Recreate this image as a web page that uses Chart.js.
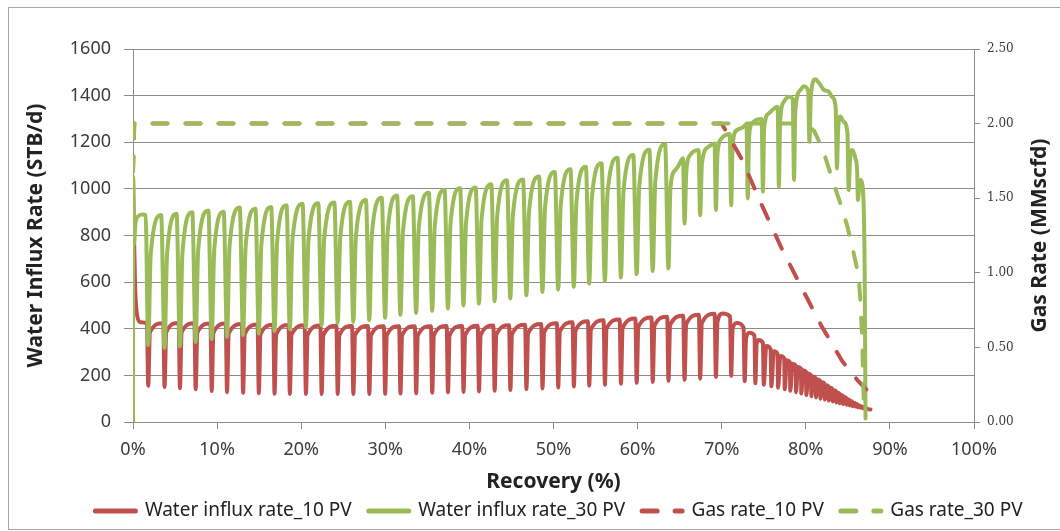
<!DOCTYPE html>
<html>
<head>
<meta charset="utf-8">
<title>Water influx and gas rate vs recovery</title>
<script src="https://cdn.jsdelivr.net/npm/chart.js@4.4.1/dist/chart.umd.min.js"></script>
<style>
  html, body { margin: 0; padding: 0; background: #ffffff; }
  canvas { display: block; }
</style>
</head>
<body>
<canvas id="chart" width="1060" height="531"></canvas>
<script>
// Series names as shown in the legend
const seriesNames = ['Water influx rate_10 PV', 'Water influx rate_30 PV', 'Gas rate_10 PV', 'Gas rate_30 PV'];

// Axis titles
const xTitle = 'Recovery (%)';
const yLeftTitle = 'Water Influx Rate (STB/d)';
const yRightTitle = 'Gas Rate (MMscfd)';

// Water influx rate, 10 PV aquifer: [recovery %, STB/d]
const influx10 = [
  [0,1050],[0.12,800],[0.25,580],[0.5,455],[0.9,428],[1.66,423],
  [1.81,155],[2.01,384],[3.6,424],
  [3.75,150],[3.95,385],[5.43,425],
  [5.58,145],[5.78,384],[7.3,424],
  [7.45,140],[7.65,383],[9.21,423],
  [9.36,133],[9.56,382],[11.03,422],
  [11.18,128],[11.38,380],[12.94,420],
  [13.09,125],[13.29,378],[14.81,418],
  [14.96,123],[15.16,377],[16.68,417],
  [16.83,121],[17.03,376],[18.5,416],
  [18.65,120],[18.85,375],[20.41,415],
  [20.56,120],[20.76,374],[22.28,414],
  [22.43,120],[22.63,373],[24.19,413],
  [24.34,120],[24.54,372],[26.05,412],
  [26.2,120],[26.4,372],[27.95,412],
  [28.1,120],[28.3,371],[29.83,411],
  [29.98,121],[30.18,371],[31.65,411],
  [31.8,122],[32.0,371],[33.52,411],
  [33.67,123],[33.87,371],[35.43,411],
  [35.58,125],[35.78,372],[37.3,412],
  [37.45,127],[37.65,372],[39.15,412],
  [39.3,129],[39.5,373],[40.99,413],
  [41.14,131],[41.34,374],[42.85,414],
  [43.0,134],[43.2,375],[44.72,415],
  [44.87,137],[45.07,377],[46.63,417],
  [46.78,141],[46.98,380],[48.54,420],
  [48.69,144],[48.89,384],[50.41,424],
  [50.56,148],[50.76,388],[52.27,428],
  [52.42,152],[52.62,392],[54.1,432],
  [54.25,156],[54.45,396],[55.96,436],
  [56.11,160],[56.31,400],[57.87,440],
  [58.02,164],[58.22,404],[59.74,444],
  [59.89,168],[60.09,408],[61.65,448],
  [61.8,172],[62.0,412],[63.52,452],
  [63.67,177],[63.87,416],[65.43,456],
  [65.58,181],[65.78,420],[67.29,460],
  [67.44,186],[67.64,424],[69.16,464],
  [69.31,193],[69.5,430],[70.1,465],[71.0,452],
  [71.13,198],[71.3,400],[71.8,425],[72.6,405],
  [72.73,175],[72.9,360],[73.3,383],[73.9,370],
  [74.0,166],[74.15,335],[74.4,352],[74.9,340],
  [75.0,160],[75.3,326],[75.82,312],
  [75.9,153],[76.2,303],[76.63,292],
  [76.7,147],[76.98,283],[77.43,273],
  [77.5,140],[77.73,265],[78.1,257],
  [78.16,134],[78.4,250],[78.78,243],
  [78.84,128],[79.06,236],[79.42,229],
  [79.47,122],[79.68,222],[80.02,215],
  [80.07,116],[80.28,208],[80.61,201],
  [80.66,110],[80.86,195],[81.17,188],
  [81.22,105],[81.4,182],[81.7,176],
  [81.74,100],[81.92,170],[82.22,164],
  [82.26,96],[82.43,158],[82.7,152],
  [82.74,92],[82.9,147],[83.17,141],
  [83.21,88],[83.37,136],[83.61,131],
  [83.65,84],[83.79,126],[84.01,121],
  [84.05,80],[84.19,116],[84.41,112],
  [84.45,77],[84.59,107],[84.81,103],
  [84.85,74],[84.97,98],[85.17,94],
  [85.2,71],[85.32,90],[85.52,87],
  [85.55,68],[85.67,83],[85.87,80],
  [85.9,66],[86.0,77],[86.17,74],
  [86.2,63],[86.3,71],[86.47,69],
  [86.5,61],[86.6,66],[86.77,64],
  [86.8,59],[86.9,62],[87.07,60],
  [87.1,57],[87.2,58],[87.37,57],
  [87.4,55],[87.7,54]
];

// Water influx rate, 30 PV aquifer: [recovery %, STB/d]
const influx30 = [
  [0,0],[0.03,1050],[0.1,760],[0.3,855],[0.6,882],[1.1,890],[1.5,888],
  [1.81,330],[2.11,721],[3.35,888],
  [3.75,318],[4.05,720],[5.18,893],
  [5.58,325],[5.88,727],[7.05,900],
  [7.45,343],[7.75,738],[8.96,907],
  [9.36,356],[9.66,738],[10.78,902],
  [11.18,365],[11.48,754],[12.69,920],
  [13.09,373],[13.39,752],[14.56,915],
  [14.96,380],[15.26,759],[16.43,922],
  [16.83,390],[17.13,768],[18.25,930],
  [18.65,398],[18.95,775],[20.16,936],
  [20.56,406],[20.86,778],[22.03,938],
  [22.43,415],[22.73,784],[23.94,942],
  [24.34,425],[24.64,789],[25.8,945],
  [26.2,430],[26.5,795],[27.7,952],
  [28.1,437],[28.4,805],[29.58,962],
  [29.98,447],[30.28,815],[31.4,972],
  [31.8,460],[32.1,816],[33.27,968],
  [33.67,468],[33.97,829],[35.18,983],
  [35.58,477],[35.88,840],[37.05,995],
  [37.45,487],[37.75,848],[38.9,1003],
  [39.3,500],[39.6,854],[40.74,1006],
  [41.14,508],[41.44,866],[42.6,1020],
  [43.0,518],[43.3,881],[44.47,1037],
  [44.87,530],[45.17,887],[46.38,1040],
  [46.78,544],[47.08,900],[48.29,1053],
  [48.69,558],[48.99,918],[50.16,1072],
  [50.56,568],[50.86,929],[52.02,1084],
  [52.42,580],[52.72,940],[53.85,1095],
  [54.25,594],[54.55,955],[55.71,1110],
  [56.11,605],[56.41,975],[57.62,1133],
  [58.02,620],[58.32,987],[59.49,1145],
  [59.89,634],[60.19,1008],[61.4,1168],
  [61.8,648],[62.1,1029],[63.27,1192],
  [63.67,659],[63.9,1000],[64.46,1080],[64.8,1095],[65.4,1131],
  [65.58,852],[65.8,1080],[66.25,1145],[67.25,1167],
  [67.44,887],[67.65,1110],[68.44,1181],[69.15,1195],
  [69.31,909],[69.5,1150],[70.0,1217],[70.95,1235],
  [71.13,930],[71.3,1190],[71.8,1252],[72.4,1262],[72.95,1275],
  [73.1,959],[73.25,1220],[73.6,1281],[74.75,1300],
  [74.9,988],[75.05,1260],[75.6,1324],[76.65,1352],
  [76.8,1009],[76.95,1290],[77.4,1374],[78.0,1395],[78.45,1385],
  [78.6,1038],[78.75,1330],[79.36,1424],[79.76,1440],[80.28,1420],
  [80.43,1202],[80.6,1400],[81.15,1470],[81.55,1455],[82.14,1425],[82.74,1417],[83.1,1395],[83.55,1350],
  [83.7,1088],[83.85,1260],[84.1,1310],[84.5,1288],[84.95,1240],
  [85.1,995],[85.25,1120],[85.5,1167],[85.9,1131],[86.1,1080],
  [86.2,952],[86.35,1010],[86.5,1038],[86.7,1024],[86.9,900],[87.0,652],[87.1,15]
];

// Gas rate, 10 PV aquifer: [recovery %, MMscfd]
const gas10 = [
  [0,1.68],[0.15,2.0],[70.0,2.0],[72.4,1.76],[74.8,1.45],[77.2,1.155],
  [79.6,0.89],[81.9,0.64],[84.3,0.41],[86.3,0.27],[87.5,0.2]
];

// Gas rate, 30 PV aquifer: [recovery %, MMscfd]
const gas30 = [
  [0,1.68],[0.15,2.0],[79.9,2.0],[81.0,1.95],[82.0,1.83],[83.3,1.6],[84.2,1.45],
  [84.95,1.31],[85.7,1.13],[86.3,0.97],[86.5,0.8],[86.7,0.57],[86.8,0.35],[86.9,0.12],[87.0,0.04]
];

const RED = '#C0504D';
const GREEN = '#9BBB59';
const GRID = '#8c8c8c';
const TICK_TEXT = '#3c3c3c';
const TITLE_TEXT = '#222222';
const SANS = '"Noto Sans", "Liberation Sans", sans-serif';

const toXY = pts => pts.map(([x, y]) => ({ x, y }));

// White background and the light frame around the whole chart
const framePlugin = {
  id: 'frame',
  beforeDraw(chart) {
    const ctx = chart.ctx;
    ctx.save();
    ctx.fillStyle = '#ffffff';
    ctx.fillRect(0, 0, chart.width, chart.height);
    ctx.strokeStyle = '#a6a6a6';
    ctx.lineWidth = 1;
    ctx.strokeRect(8.5, 7.5, chart.width + 10, chart.height - 9);
    ctx.restore();
  }
};

// Secondary axis title, reading bottom to top like the primary one
const rightTitlePlugin = {
  id: 'rightTitle',
  afterDraw(chart) {
    const { ctx, chartArea } = chart;
    ctx.save();
    ctx.translate(1040, (chartArea.top + chartArea.bottom) / 2);
    ctx.rotate(-Math.PI / 2);
    ctx.font = 'bold 21px ' + SANS;
    ctx.fillStyle = TITLE_TEXT;
    ctx.textAlign = 'center';
    ctx.textBaseline = 'middle';
    ctx.fillText(yRightTitle, 0, 0);
    ctx.restore();
  }
};

const solid = (label, pts, color, order) => ({
  label, data: toXY(pts), yAxisID: 'y', order,
  borderColor: color, backgroundColor: color,
  borderWidth: 4, borderCapStyle: 'round', borderJoinStyle: 'round',
  pointRadius: 0, cubicInterpolationMode: 'monotone'
});

const dashed = (label, pts, color, order) => ({
  label, data: toXY(pts), yAxisID: 'y2', order,
  borderColor: color, backgroundColor: color,
  borderWidth: 4, borderDash: [15, 18], borderCapStyle: 'round', borderJoinStyle: 'round',
  pointRadius: 0, tension: 0
});

new Chart(document.getElementById('chart'), {
  type: 'line',
  data: {
    datasets: [
      solid(seriesNames[0], influx10, RED, 4),
      solid(seriesNames[1], influx30, GREEN, 3),
      dashed(seriesNames[2], gas10, RED, 2),
      dashed(seriesNames[3], gas30, GREEN, 1)
    ]
  },
  options: {
    responsive: false,
    animation: false,
    devicePixelRatio: 1,
    events: [],
    layout: { padding: { left: 8, right: -50, top: 49, bottom: 0.5 } },
    plugins: {
      tooltip: { enabled: false },
      legend: {
        position: 'bottom',
        labels: {
          usePointStyle: true,
          pointStyle: 'line',
          pointStyleWidth: 40,
          padding: 17,
          color: TITLE_TEXT,
          font: { family: SANS, size: 19 },
          sort: (a, b) => a.datasetIndex - b.datasetIndex,
          generateLabels(chart) {
            const items = Chart.defaults.plugins.legend.labels.generateLabels(chart);
            items.forEach(it => {
              const ds = chart.data.datasets[it.datasetIndex];
              it.lineWidth = 5;
              it.strokeStyle = ds.borderColor;
              it.lineDash = ds.borderDash || [];
              it.lineCap = 'round';
            });
            return items;
          }
        }
      }
    },
    scales: {
      x: {
        type: 'linear',
        min: 0, max: 100,
        afterFit(scale) { scale.height = 62.5; },
        ticks: {
          stepSize: 10,
          padding: 10,
          color: TICK_TEXT,
          font: { family: SANS, size: 18 },
          callback: v => v + '%'
        },
        grid: { drawOnChartArea: false, drawTicks: true, tickLength: 7, color: GRID },
        border: { color: GRID },
        title: {
          display: true, text: xTitle, color: TITLE_TEXT,
          font: { family: SANS, size: 21, weight: 'bold' },
          padding: { top: 0, bottom: -10 }
        }
      },
      y: {
        position: 'left',
        min: 0, max: 1600,
        afterFit(scale) { scale.width = 125; },
        ticks: {
          stepSize: 200,
          padding: 13,
          color: TICK_TEXT,
          font: { family: SANS, size: 18 },
          callback: v => String(v)
        },
        grid: { color: GRID, tickLength: 9 },
        border: { color: GRID },
        title: {
          display: true, text: yLeftTitle, color: TITLE_TEXT,
          font: { family: SANS, size: 21, weight: 'bold' },
          padding: { top: 15, bottom: 0 }
        }
      },
      y2: {
        position: 'right',
        min: 0, max: 2.5,
        afterFit(scale) { scale.width = 136; },
        ticks: {
          stepSize: 0.5,
          padding: 7,
          color: TICK_TEXT,
          font: { family: '"DejaVu Serif", serif', size: 12 },
          callback: v => Number(v).toFixed(2)
        },
        grid: { drawOnChartArea: false, tickLength: 6, color: GRID },
        border: { color: GRID }
      }
    }
  },
  plugins: [framePlugin, rightTitlePlugin]
});
</script>
</body>
</html>
